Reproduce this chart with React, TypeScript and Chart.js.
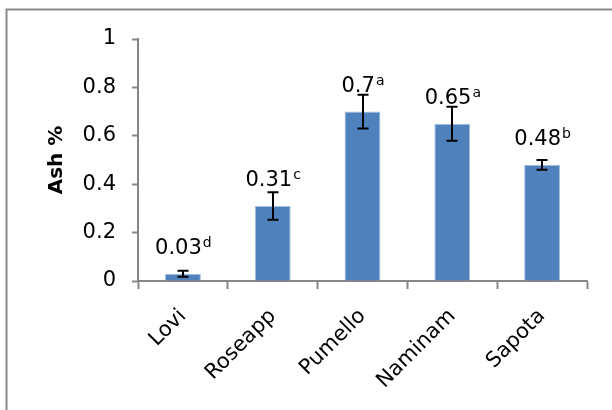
import { useEffect, useRef } from "react";
import { Chart, registerables } from "chart.js";

Chart.register(...registerables);

// Ash content per fruit, with standard deviation and significance group letters
const categories = ["Lovi", "Roseapp", "Pumello", "Naminam", "Sapota"];
const ashValues = [0.03, 0.31, 0.7, 0.65, 0.48];
const ashErrors = [0.012, 0.057, 0.07, 0.07, 0.02];
const groupLetters = ["d", "c", "a", "a", "b"];
const yTicks = [0, 0.2, 0.4, 0.6, 0.8, 1];

const FONT = "'DejaVu Sans', sans-serif";
const AXIS_GREY = "#868686";

// Outer grey frame around the chart
const framePlugin = {
  id: "frame",
  beforeDraw(chart: any) {
    const { ctx } = chart;
    ctx.save();
    ctx.strokeStyle = "#8a8a8a";
    ctx.lineWidth = 2;
    ctx.beginPath();
    ctx.moveTo(6.5, 412);
    ctx.lineTo(6.5, 9.5);
    ctx.lineTo(614, 9.5);
    ctx.stroke();
    ctx.restore();
  },
};

// Error bars with caps, drawn over each bar
const errorBarPlugin = {
  id: "errorBars",
  afterDatasetsDraw(chart: any) {
    const { ctx } = chart;
    const yScale = chart.scales.y;
    const meta = chart.getDatasetMeta(0);
    ctx.save();
    ctx.strokeStyle = "#000";
    ctx.lineWidth = 2;
    meta.data.forEach((bar: any, i: number) => {
      const v = ashValues[i];
      const e = ashErrors[i];
      const top = yScale.getPixelForValue(v + e);
      const bot = yScale.getPixelForValue(v - e);
      const x = Math.round(bar.x);
      const cap = 5.5;
      ctx.beginPath();
      ctx.moveTo(x, top);
      ctx.lineTo(x, bot);
      ctx.moveTo(x - cap, top);
      ctx.lineTo(x + cap, top);
      ctx.moveTo(x - cap, bot);
      ctx.lineTo(x + cap, bot);
      ctx.stroke();
    });
    ctx.restore();
  },
};

// Value labels with superscript group letters above each bar
const valueLabelPlugin = {
  id: "valueLabels",
  afterDatasetsDraw(chart: any) {
    const { ctx } = chart;
    const yScale = chart.scales.y;
    const meta = chart.getDatasetMeta(0);
    ctx.save();
    ctx.fillStyle = "#000";
    ctx.textBaseline = "alphabetic";
    ctx.textAlign = "left";
    meta.data.forEach((bar: any, i: number) => {
      const main = String(ashValues[i]);
      const sup = groupLetters[i];
      const mainFont = `21px ${FONT}`;
      const supFont = `14px ${FONT}`;
      ctx.font = mainFont;
      const w1 = ctx.measureText(main).width;
      ctx.font = supFont;
      const w2 = ctx.measureText(sup).width;
      const baseline = yScale.getPixelForValue(ashValues[i]) - 20;
      const x0 = bar.x - (w1 + w2) / 2;
      ctx.font = mainFont;
      ctx.fillText(main, x0, baseline);
      ctx.font = supFont;
      ctx.fillText(sup, x0 + w1 + 1, baseline - 7);
    });
    ctx.restore();
  },
};

export default function App() {
  const canvasRef = useRef<HTMLCanvasElement | null>(null);

  useEffect(() => {
    if (!canvasRef.current) return;
    const chart = new Chart(canvasRef.current, {
      type: "bar",
      data: {
        labels: categories,
        datasets: [
          {
            label: "Ash %",
            data: ashValues,
            backgroundColor: "#4F81BD",
            borderColor: "#A7BFDE",
            borderWidth: 1,
            categoryPercentage: 1,
            barPercentage: 0.4,
          },
        ],
      },
      options: {
        responsive: false,
        animation: false,
        layout: { padding: { left: 0, right: 25, top: 39, bottom: 0 } },
        plugins: {
          legend: { display: false },
          tooltip: { enabled: false },
        },
        scales: {
          x: {
            afterFit: (s: any) => {
              s.height = 129;
            },
            border: { color: AXIS_GREY, width: 2 },
            grid: {
              offset: true,
              drawOnChartArea: false,
              drawTicks: true,
              tickLength: 8,
              tickWidth: 2,
              color: AXIS_GREY,
            },
            ticks: {
              minRotation: 45,
              maxRotation: 45,
              padding: 15,
              color: "#000",
              font: { family: FONT, size: 21 },
            },
          },
          y: {
            min: 0,
            max: 1,
            afterFit: (s: any) => {
              s.width = 138;
            },
            afterBuildTicks: (s: any) => {
              s.ticks = yTicks.map((v) => ({ value: v }));
            },
            border: { color: AXIS_GREY, width: 2 },
            grid: {
              drawOnChartArea: false,
              drawTicks: true,
              tickLength: 6,
              tickWidth: 2,
              color: AXIS_GREY,
            },
            ticks: {
              padding: 16,
              color: "#000",
              font: { family: FONT, size: 21 },
              callback: (v: any) => String(Number(Number(v).toFixed(1))),
            },
            title: {
              display: true,
              text: "Ash %",
              color: "#000",
              font: { family: FONT, size: 20, weight: "bold" },
              padding: { top: 45, bottom: 0 },
            },
          },
        },
      },
      plugins: [framePlugin, errorBarPlugin, valueLabelPlugin],
    });
    return () => chart.destroy();
  }, []);

  return (
    <div style={{ position: "absolute", left: 0, top: 0, width: 612, height: 410, background: "#fff" }}>
      <canvas ref={canvasRef} width={612} height={410} />
    </div>
  );
}
